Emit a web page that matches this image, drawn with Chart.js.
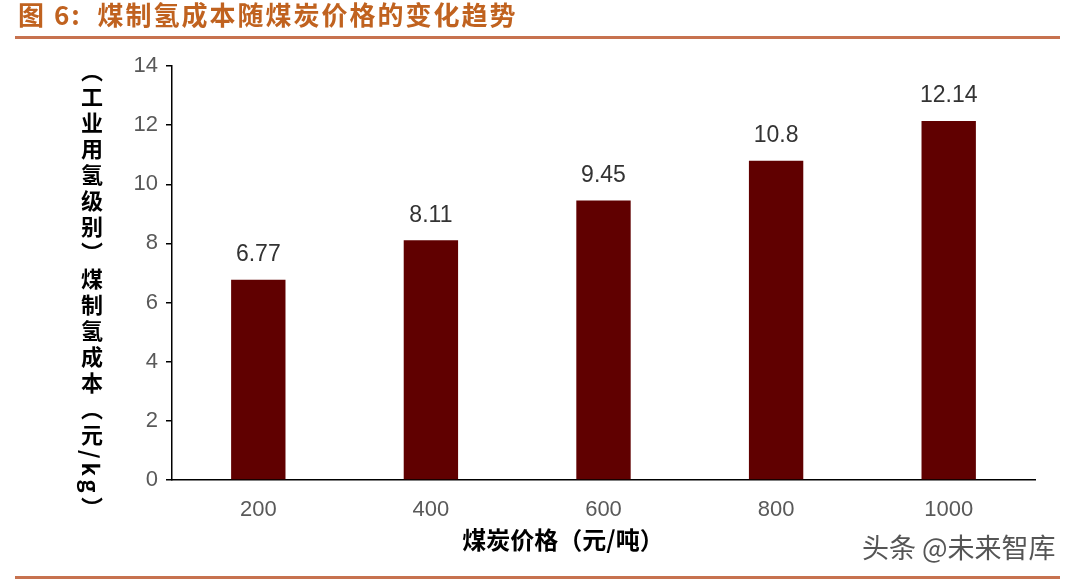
<!DOCTYPE html>
<html>
<head>
<meta charset="utf-8">
<script src="https://cdn.jsdelivr.net/npm/chart.js@4"></script>
<style>
    body { margin: 0; background: #fff; }
    #wrap { position: relative; width: 1077px; height: 579px; overflow: hidden; }
    #costChart { position: absolute; left: 0; top: 0; }
    #yTitle {
        position: absolute; left: 79px; top: 60px; height: 470px;
        writing-mode: vertical-rl; text-orientation: mixed;
        font-family: "Noto Sans CJK SC", sans-serif;
        font-weight: bold; font-size: 22px; line-height: 26px; color: #000; letter-spacing: 4px;
    }
</style>
</head>
<body>
<div id="wrap">
    <canvas id="costChart" width="1077" height="579"></canvas>
    <div id="yTitle">（工业用氢级别）煤制氢成本（元/kg）</div>
</div>
<script>
const coalPrices = ['200', '400', '600', '800', '1000'];
const h2Cost = [6.77, 8.11, 9.45, 10.8, 12.14];
const costLabels = ['6.77', '8.11', '9.45', '10.8', '12.14'];

const chartTitle = '图 6:  煤制氢成本随煤炭价格的变化趋势';
const xTitle = '煤炭价格（元/吨）';
const watermark = '头条 @未来智库';

const pagePlugin = {
    id: 'pageDecor',
    beforeDraw(chart) {
        const c = chart.ctx;
        c.save();
        c.fillStyle = '#fff';
        c.fillRect(0, 0, chart.width, chart.height);
        // header
        c.fillStyle = '#C0621F';
        c.font = 'bold 26px "Noto Sans CJK SC", sans-serif';
        c.textBaseline = 'middle';
        c.textAlign = 'left';
        c.letterSpacing = '2px';
        c.fillText(chartTitle, 18, 15);
        c.letterSpacing = '0px';
        c.fillStyle = '#C7724F';
        c.fillRect(15, 36, 1045, 3);
        c.fillRect(15, 576, 1045, 3);
        // x axis title
        c.fillStyle = '#000';
        c.font = 'bold 24px "Noto Sans CJK SC", sans-serif';
        c.textAlign = 'center';
        c.fillText(xTitle, 563, 540);
        // watermark
        c.font = '27px "Noto Sans CJK SC", sans-serif';
        c.textAlign = 'left';
        c.fillStyle = '#555';
        c.fillText(watermark, 862, 548);
        c.restore();
    },
    afterDatasetsDraw(chart) {
        const c = chart.ctx;
        const meta = chart.getDatasetMeta(0);
        c.save();
        c.fillStyle = '#333';
        c.font = '23px "Liberation Sans", Arial, sans-serif';
        c.textAlign = 'center';
        c.textBaseline = 'middle';
        meta.data.forEach((bar, i) => {
            c.fillText(costLabels[i], bar.x, bar.y - 25);
        });
        c.restore();
    }
};

new Chart(document.getElementById('costChart'), {
    type: 'bar',
    data: {
        labels: coalPrices,
        datasets: [{
            data: h2Cost,
            backgroundColor: '#600000',
            categoryPercentage: 1,
            barPercentage: 0.315
        }]
    },
    options: {
        responsive: false,
        animation: false,
        layout: { padding: { left: 122, right: 42, top: 66, bottom: 39 } },
        plugins: {
            legend: { display: false },
            tooltip: { enabled: false }
        },
        scales: {
            x: {
                grid: { display: false },
                border: { display: true, color: '#000', width: 1.5 },
                ticks: {
                    color: '#595959',
                    font: { size: 22, family: '"Liberation Sans", Arial, sans-serif' },
                    padding: 9
                },
                afterFit(scale) { scale.height = 60; }
            },
            y: {
                min: 0,
                max: 14,
                ticks: {
                    stepSize: 2,
                    color: '#595959',
                    font: { size: 22, family: '"Liberation Sans", Arial, sans-serif' },
                    padding: 8
                },
                grid: { drawOnChartArea: false, drawTicks: true, tickLength: 6, color: '#000', lineWidth: 1.5 },
                border: { display: true, color: '#000', width: 1.5 },
                afterFit(scale) { scale.width = 50; }
            }
        }
    },
    plugins: [pagePlugin]
});
</script>
</body>
</html>
